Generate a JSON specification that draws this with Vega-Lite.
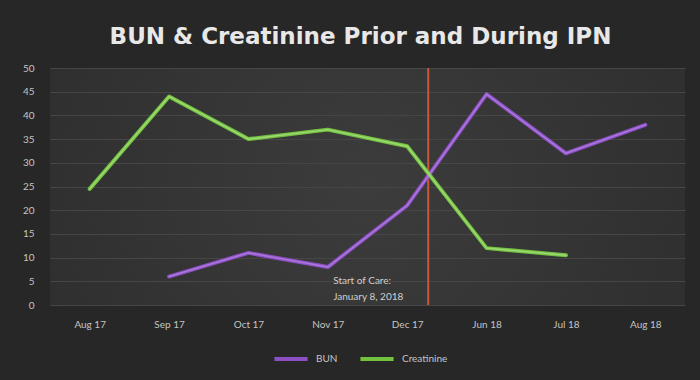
{
  "$schema": "https://vega.github.io/schema/vega-lite/v6.json",
  "width": 635,
  "height": 237,
  "autosize": {"type": "none"},
  "padding": {"left": 50, "top": 68, "right": 15, "bottom": 75},
  "background": "#272727",
  "title": {
    "text": "BUN & Creatinine Prior and During IPN",
    "font": "DejaVu Sans",
    "fontSize": 23,
    "fontWeight": "bold",
    "color": "#e8e8e8",
    "anchor": "middle",
    "offset": 22,
    "dx": -7,
    "dy": 8
  },
  "config": {
    "view": {
      "stroke": null,
      "fill": {
        "gradient": "radial",
        "x1": 0.5, "y1": 0.5, "r1": 0,
        "x2": 0.5, "y2": 0.5, "r2": 0.75,
        "stops": [
          {"offset": 0, "color": "#3c3c3c"},
          {"offset": 1, "color": "#2a2a2a"}
        ]
      }
    },
    "axis": {
      "labelFont": "Lato",
      "labelColor": "#c4c4c4",
      "labelFontSize": 10,
      "labelOverlap": false,
      "domain": false,
      "ticks": false,
      "title": null
    },
    "axisY": {
      "tickCount": 11,
      "grid": true,
      "gridColor": "#464646",
      "gridWidth": 1,
      "labelPadding": 16
    },
    "axisX": {
      "tickCount": 8,
      "grid": false,
      "labelPadding": 14
    },
    "legend": {
      "labelFont": "Lato",
      "labelColor": "#c4c4c4",
      "labelFontSize": 10
    }
  },
  "datasets": {
    "labs": [
      {"month": "Sep 17", "idx": 1, "series": "BUN", "value": 6},
      {"month": "Oct 17", "idx": 2, "series": "BUN", "value": 11},
      {"month": "Nov 17", "idx": 3, "series": "BUN", "value": 8},
      {"month": "Dec 17", "idx": 4, "series": "BUN", "value": 21},
      {"month": "Jun 18", "idx": 5, "series": "BUN", "value": 44.5},
      {"month": "Jul 18", "idx": 6, "series": "BUN", "value": 32},
      {"month": "Aug 18", "idx": 7, "series": "BUN", "value": 38},
      {"month": "Aug 17", "idx": 0, "series": "Creatinine", "value": 24.5},
      {"month": "Sep 17", "idx": 1, "series": "Creatinine", "value": 44},
      {"month": "Oct 17", "idx": 2, "series": "Creatinine", "value": 35},
      {"month": "Nov 17", "idx": 3, "series": "Creatinine", "value": 37},
      {"month": "Dec 17", "idx": 4, "series": "Creatinine", "value": 33.5},
      {"month": "Jun 18", "idx": 5, "series": "Creatinine", "value": 12},
      {"month": "Jul 18", "idx": 6, "series": "Creatinine", "value": 10.5}
    ],
    "care": [
      {"idx": 4.265, "low": 0, "high": 50, "note": "Start of Care:\nJanuary 8, 2018"}
    ]
  },
  "encoding": {
    "x": {
      "type": "quantitative",
      "scale": {"domain": [-0.5, 7.5], "nice": false, "zero": false},
      "axis": {
        "values": [0, 1, 2, 3, 4, 5, 6, 7],
        "tickCount": 8,
        "labelExpr": "['Aug 17','Sep 17','Oct 17','Nov 17','Dec 17','Jun 18','Jul 18','Aug 18'][datum.value]"
      }
    },
    "y": {
      "type": "quantitative",
      "scale": {"domain": [0, 50], "nice": false},
      "axis": {"values": [0, 5, 10, 15, 20, 25, 30, 35, 40, 45, 50], "tickCount": 11}
    }
  },
  "layer": [
    {
      "data": {"name": "care"},
      "mark": {"type": "rule", "color": "#c8583a", "strokeWidth": 2},
      "encoding": {
        "x": {"field": "idx", "type": "quantitative"},
        "y": {"field": "low", "type": "quantitative"},
        "y2": {"field": "high"}
      }
    },
    {
      "data": {"name": "labs"},
      "mark": {"type": "line", "strokeWidth": 4, "strokeCap": "round", "strokeJoin": "round"},
      "encoding": {
        "x": {"field": "idx", "type": "quantitative"},
        "y": {"field": "value", "type": "quantitative"},
        "color": {
          "field": "series",
          "type": "nominal",
          "scale": {"domain": ["BUN", "Creatinine"], "range": ["#8c4fc6", "#72c240"]},
          "legend": {
            "title": null,
            "orient": "none",
            "direction": "horizontal",
            "legendX": 222,
            "legendY": 272,
            "symbolType": "stroke",
            "symbolSize": 1100,
            "symbolStrokeWidth": 4,
            "columnPadding": 14,
            "labelOffset": 6
          }
        },
        "order": {"field": "idx"}
      }
    },
    {
      "data": {"name": "labs"},
      "mark": {"type": "line", "strokeWidth": 1.5, "opacity": 0.55, "strokeCap": "round", "strokeJoin": "round"},
      "encoding": {
        "x": {"field": "idx", "type": "quantitative"},
        "y": {"field": "value", "type": "quantitative"},
        "stroke": {
          "field": "series",
          "type": "nominal",
          "scale": {"domain": ["BUN", "Creatinine"], "range": ["#c49ae8", "#c4ec9c"]},
          "legend": null
        },
        "order": {"field": "idx"}
      }
    },
    {
      "data": {"name": "care"},
      "mark": {
        "type": "text",
        "align": "left",
        "baseline": "middle",
        "dx": -95,
        "dy": -8,
        "lineBreak": "\n",
        "lineHeight": 16,
        "font": "Lato",
        "fontSize": 10,
        "color": "#cfcfcf"
      },
      "encoding": {
        "x": {"field": "idx", "type": "quantitative"},
        "y": {"datum": 3.3},
        "text": {"field": "note"}
      }
    }
  ]
}
